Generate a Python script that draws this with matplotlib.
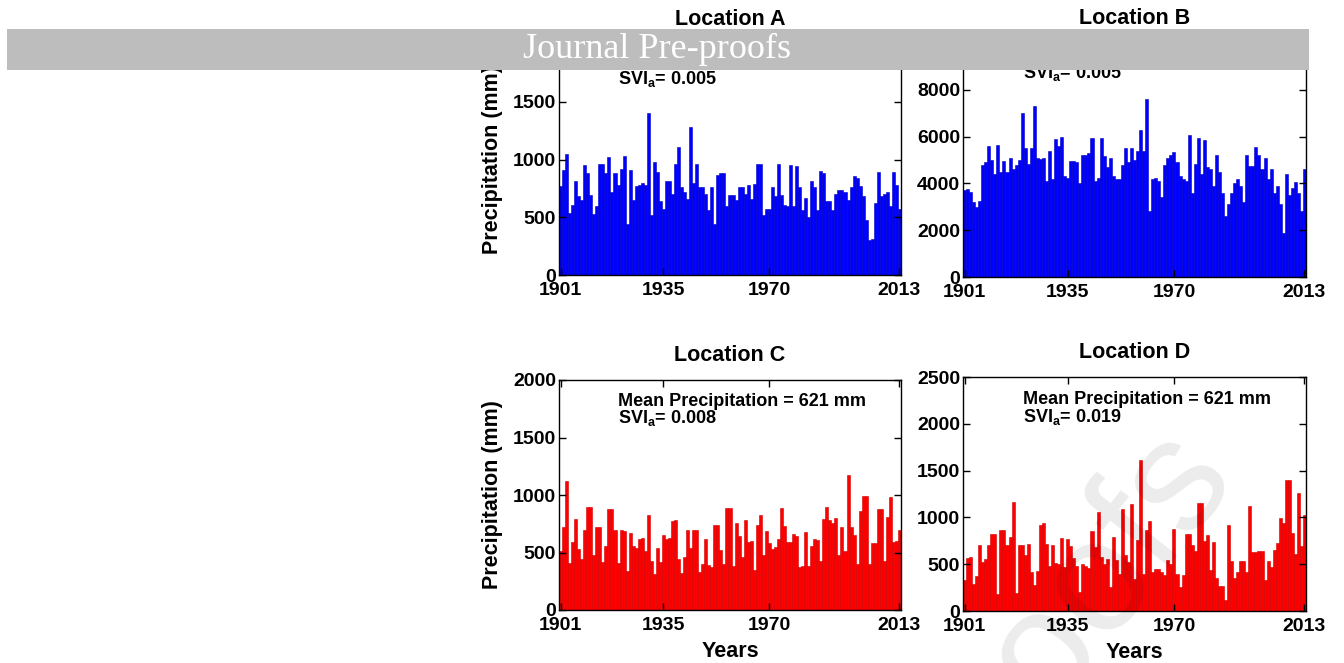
import numpy as np
import matplotlib
matplotlib.use("Agg")
import matplotlib.pyplot as plt
from matplotlib.patches import Rectangle

plt.rcParams['font.family'] = ['Liberation Sans', 'DejaVu Sans']
plt.rcParams['font.weight'] = 'bold'
plt.rcParams['mathtext.fontset'] = 'custom'
plt.rcParams['mathtext.rm'] = 'Liberation Sans:bold'

years = np.arange(1901, 2014)
xtick_years = [1901, 1935, 1970, 2013]

# annual precipitation (mm)
loc_a = [770, 910, 1050, 540, 610, 810, 680, 650, 950, 880,
         690, 530, 600, 960, 960, 880, 1020, 720, 880, 780,
         920, 1030, 440, 910, 650, 770, 780, 800, 780, 1400,
         520, 980, 890, 640, 570, 810, 810, 700, 960, 1110,
         760, 720, 660, 1280, 800, 960, 760, 760, 700, 560,
         760, 440, 870, 880, 880, 600, 690, 690, 650, 760,
         760, 700, 780, 660, 790, 960, 960, 520, 570, 570,
         760, 680, 960, 690, 610, 600, 950, 600, 940, 760,
         560, 670, 500, 810, 760, 560, 900, 880, 640, 640,
         560, 700, 740, 740, 720, 650, 760, 860, 840, 770,
         680, 480, 300, 310, 620, 890, 680, 700, 720, 600,
         890, 780, 570]

loc_b = [3700, 3750, 3650, 3200, 3000, 3250, 4800, 4900, 5600, 5000,
         4400, 5650, 4500, 4950, 4500, 5100, 4600, 4800, 5000, 7000,
         5500, 4850, 5500, 7300, 5100, 5050, 5100, 4100, 5400, 4200,
         5900, 5600, 6000, 4300, 4250, 4950, 4950, 4900, 4000, 5200,
         5200, 5300, 5950, 4100, 4250, 5950, 5150, 4700, 5100, 4300,
         4200, 4200, 4800, 5500, 4900, 5500, 5000, 5400, 6300, 5400,
         7600, 2800, 4200, 4250, 4100, 3400, 4800, 5100, 5200, 5350,
         4900, 4300, 4200, 4100, 6050, 3600, 4850, 5950, 4400, 5850,
         4700, 4600, 3900, 5200, 4500, 3600, 2600, 3100, 3600, 4000,
         4200, 3900, 3200, 5200, 4750, 4750, 5550, 5200, 4600, 5100,
         4200, 4600, 3600, 3900, 3100, 1900, 4400, 3500, 3800, 4050,
         3600, 2800, 4600]

loc_c = [510, 720, 1120, 410, 590, 790, 530, 440, 700, 900,
         900, 480, 720, 720, 420, 560, 880, 880, 700, 410,
         700, 690, 340, 670, 560, 540, 620, 630, 510, 830,
         430, 310, 540, 420, 650, 620, 630, 770, 780, 440,
         320, 460, 700, 540, 700, 700, 330, 400, 620, 390,
         370, 740, 740, 520, 400, 890, 890, 380, 760, 640,
         460, 780, 590, 600, 350, 740, 830, 480, 690, 580,
         530, 550, 620, 890, 730, 590, 590, 660, 640, 370,
         380, 680, 380, 560, 620, 610, 430, 790, 900, 780,
         760, 800, 480, 720, 510, 1170, 720, 650, 400, 860,
         990, 990, 400, 580, 580, 880, 880, 430, 810, 980,
         590, 600, 700]

loc_d = [330, 570, 580, 290, 370, 700, 520, 560, 700, 820,
         820, 180, 870, 870, 700, 790, 1160, 190, 700, 700,
         600, 720, 420, 280, 430, 920, 940, 720, 480, 700,
         510, 500, 780, 470, 770, 690, 570, 480, 200, 500,
         480, 460, 850, 680, 1060, 580, 500, 560, 260, 790,
         540, 400, 1090, 600, 520, 1140, 340, 760, 1610, 400,
         870, 960, 420, 450, 450, 420, 380, 550, 500, 880,
         390, 260, 380, 820, 820, 700, 640, 1150, 1150, 750,
         810, 440, 740, 350, 270, 270, 120, 920, 530, 350,
         420, 530, 530, 420, 1120, 630, 630, 640, 640, 330,
         530, 470, 650, 730, 990, 940, 1400, 1400, 830, 610,
         1260, 690, 1030]

titles = ['Location A', 'Location B', 'Location C', 'Location D']
series = [loc_a, loc_b, loc_c, loc_d]
ylims = [2000, 10000, 2000, 2500]
ysteps = [500, 2000, 500, 500]
colors = ['#0000ff', '#0000ff', '#ff0000', '#ff0000']
edges = ['#0000c0', '#0000c0', '#cc0000', '#cc0000']
svi = ['0.005', '0.005', '0.008', '0.019']
svi_y = [0.85, 0.87, 0.835, 0.83]
mean_txt = [None, None, 'Mean Precipitation = 621 mm', 'Mean Precipitation = 621 mm']

W, H = 1344, 663
fig = plt.figure(figsize=(W / 100, H / 100), dpi=100)

# axes boxes in pixels: left, top, right, bottom
boxes = [(559, 44, 901, 275), (963, 43, 1306, 277),
         (559, 380, 901, 610), (963, 377, 1306, 611)]

for i, (l, t, r, b) in enumerate(boxes):
    ax = fig.add_axes([l / W, (H - b) / H, (r - l) / W, (b - t) / H])
    ax.bar(years, series[i], width=1.0, color=colors[i],
           edgecolor=edges[i], linewidth=0.4)
    ax.set_xlim(1900.5, 2013.5)
    ax.set_ylim(0, ylims[i])
    ax.set_xticks(xtick_years)
    ax.set_yticks(np.arange(0, ylims[i] + 1, ysteps[i]))
    ax.tick_params(direction='in', top=True, right=True, length=5,
                   width=1, labelsize=14)
    ax.tick_params(axis='x', pad=5)
    ax.tick_params(axis='y', pad=2)
    for s in ax.spines.values():
        s.set_linewidth(1.0)
    ax.set_title(titles[i], fontsize=15.5, fontweight='bold', pad=14)
    if i % 2 == 0:
        ax.set_ylabel('Precipitation (mm)', fontsize=15.5, fontweight='bold',
                      labelpad=7)
    if i >= 2:
        ax.set_xlabel('Years', fontsize=15.5, fontweight='bold', labelpad=5)
    x0 = 0.173 if i % 2 == 0 else 0.175
    if mean_txt[i]:
        ax.text(x0, 0.905, mean_txt[i], transform=ax.transAxes,
                fontsize=13, fontweight='bold', va='center')
    ax.text(x0, svi_y[i], r'SVI$_{\mathrm{a}}$= ' + svi[i],
            transform=ax.transAxes, fontsize=13, fontweight='bold',
            va='center')

# grey journal banner across the top
fig.add_artist(Rectangle((7 / W, (H - 70) / H), 1302 / W, 41 / H,
                         transform=fig.transFigure, facecolor='#bdbdbd',
                         edgecolor='none', zorder=10))
fig.text(657 / W, (H - 49) / H, 'Journal Pre-proofs', color='white',
         fontsize=26, family='Liberation Serif', fontweight='normal',
         ha='center', va='center', zorder=11)

# faint diagonal watermark
fig.text(1065 / W, (H - 620) / H, 'proofs', color='black', alpha=0.08,
         fontsize=115, fontweight='normal', rotation=52,
         ha='center', va='center', zorder=12)

fig.savefig('out.png', dpi=100)
